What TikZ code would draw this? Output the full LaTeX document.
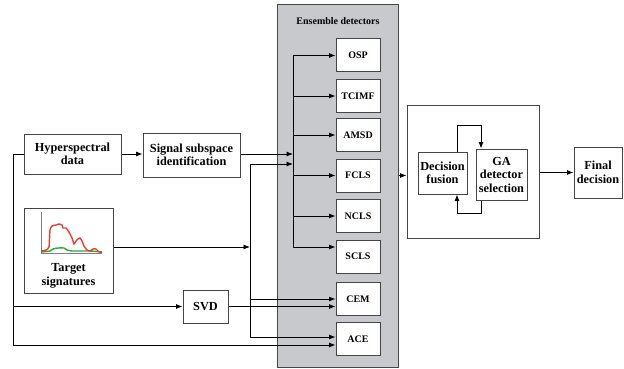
\documentclass[tikz,border=0pt]{standalone}
\usepackage{fontspec}
\setmainfont{Liberation Serif}
\usetikzlibrary{arrows.meta}
\definecolor{ensgray}{RGB}{200,201,204}
\definecolor{edge}{RGB}{70,70,70}
\definecolor{sigred}{RGB}{240,60,50}
\definecolor{siggreen}{RGB}{40,170,60}
\tikzset{
  box/.style={draw=edge, line width=1pt, fill=white, align=center, inner sep=0pt,
    font=\fontsize{12.3}{13.5}\selectfont\bfseries},
  det/.style={box, minimum width=44pt, minimum height=33pt, font=\fontsize{10}{11}\selectfont\bfseries},
  ln/.style={line width=0.8pt, black},
  arr/.style={ln, -{Latex[length=6.5pt,width=5pt]}},
}
\begin{document}
\begin{tikzpicture}[x=1pt,y=-1pt]
\useasboundingbox (0,0) rectangle (624,369);
% ensemble region
\node[draw=edge, line width=1pt, fill=ensgray, minimum width=121pt, minimum height=362pt, inner sep=0pt] (ens) at (337.5,186) {};
\node[font=\fontsize{10}{11}\selectfont\bfseries] (enst) at (338,21) {Ensemble detectors};
\node[det] (osp) at (358,55.5) {OSP};
\node[det] (tcimf) at (358,96) {TCIMF};
\node[det] (amsd) at (358,135) {AMSD};
\node[det] (fcls) at (358,175.5) {FCLS};
\node[det] (ncls) at (358,216) {NCLS};
\node[det] (scls) at (358,256.5) {SCLS};
\node[det] (cem) at (358,299) {CEM};
\node[det] (ace) at (358,339) {ACE};
% left side
\node[box, minimum width=97pt, minimum height=40pt] (hyper) at (72.5,154) {Hyperspectral\\data};
\node[box, minimum width=97pt, minimum height=44pt] (sig) at (191.5,155) {Signal subspace\\identification};
\node[box, minimum width=89pt, minimum height=85pt] (target) at (68.5,250.5) {};
\node[font=\fontsize{12.3}{14}\selectfont\bfseries, align=center] (targett) at (68.5,276) {Target\\signatures};
\node[box, minimum width=45pt, minimum height=33pt] (svd) at (205.5,306.5) {SVD};
% signature plot
\draw[gray, line width=0.5pt] (41,212) -- (41,253) -- (102,253);
\draw[siggreen, line width=1.4pt] plot[smooth, tension=0.4] coordinates {(41,252) (50,251) (53,249) (58,248) (64,248) (67,250) (72,251) (80,251) (90,251) (102,252)};
\draw[sigred, line width=1.4pt] plot[smooth, tension=0.3] coordinates {(42,251) (46,250) (49,247) (50,230) (52,226) (56,225) (59,224) (62,225) (63,228) (66,228) (69,232) (72,238) (74,244) (76,241) (78,239) (80,238) (82,241) (84,246) (87,250) (90,251) (93,249) (96,249) (99,252) (102,252)};
% right side
\node[draw=edge, line width=1pt, minimum width=132pt, minimum height=133pt, inner sep=0pt] (outer) at (473,171.5) {};
\node[box, minimum width=49pt, minimum height=42pt] (dec) at (442.5,173) {Decision\\fusion};
\node[box, minimum width=51pt, minimum height=51pt] (ga) at (501.5,174.5) {GA\\detector\\selection};
\node[box, minimum width=48pt, minimum height=51pt] (final) at (598,172.5) {Final\\decision};
% junction coordinates
\coordinate (hvtop) at (13,154);
\coordinate (hvsvd) at (13,306.5);
\coordinate (hvbot) at (13,345);
\coordinate (tvtop) at (250,164);
\coordinate (tvmid) at (250,247);
\coordinate (tvcem) at (250,299);
\coordinate (tvace) at (250,337);
\coordinate (bustop) at (293,55.5);
\coordinate (busbot) at (293,247);
\coordinate (lt) at (457,125);
\coordinate (rt) at (481,125);
\coordinate (lb) at (457,213);
\coordinate (rb) at (481,213);
% connectors left
\draw[arr] (hyper.east) -- (sig.west |- hyper.east);
\draw[ln] (hyper.west) -- (hvtop) -- (hvbot);
\draw[arr] (hvsvd) -- (svd.west);
\draw[arr] (hvbot) -- (ace.west |- hvbot);
\draw[arr] (svd.east) -- (cem.west |- svd.east);
\draw[arr] (sig.east |- hyper.east) -- (bustop |- hyper.east);
\draw[ln] (tvtop) -- (tvace);
\draw[arr] (target.east |- tvmid) -- (tvmid);
\draw[arr] (tvtop) -- (tvtop -| bustop);
\draw[arr] (tvcem) -- (cem.west |- tvcem);
\draw[arr] (tvace) -- (ace.west |- tvace);
% bus
\draw[ln] (bustop) -- (busbot);
\draw[arr] (bustop) -- (osp.west);
\draw[arr] (bustop |- tcimf.west) -- (tcimf.west);
\draw[arr] (bustop |- amsd.west) -- (amsd.west);
\draw[arr] (bustop |- fcls.west) -- (fcls.west);
\draw[arr] (bustop |- ncls.west) -- (ncls.west);
\draw[arr] (busbot) -- (scls.west |- busbot);
% right connectors
\draw[arr] (ens.east |- fcls.west) -- (outer.west |- fcls.west);
\draw[arr] (outer.east |- final.west) -- (final.west);
\draw[arr] (dec.north -| lt) -- (lt) -- (rt) -- (ga.north -| rt);
\draw[arr] (ga.south -| rb) -- (rb) -- (lb) -- (dec.south -| lb);
\end{tikzpicture}
\end{document}
